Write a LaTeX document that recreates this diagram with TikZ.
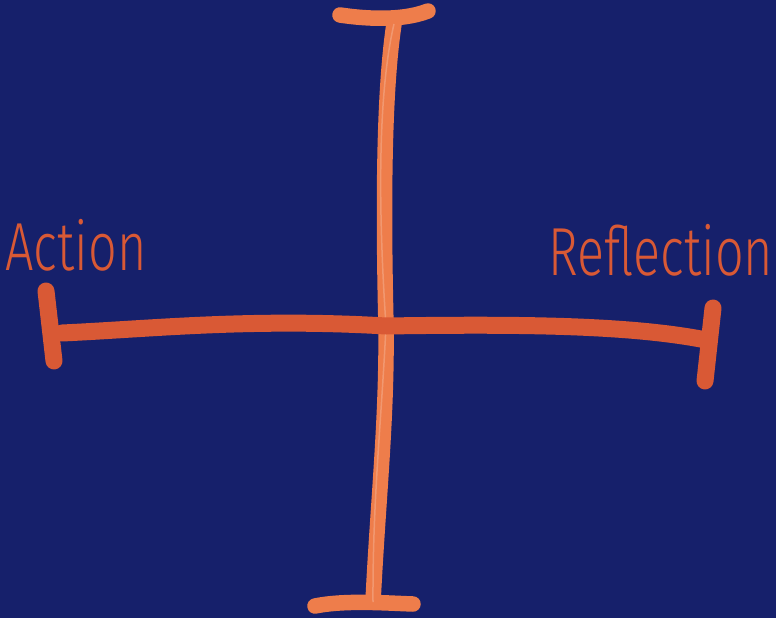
\documentclass[tikz,border=0pt]{standalone}
\usepackage{fontspec}
\newfontfamily\handfont{Fira Sans}[UprightFont={* Light},FakeStretch=0.74]
\definecolor{navy}{HTML}{16206B}
\definecolor{rust}{HTML}{D95935}
\definecolor{peach}{HTML}{EE7D4B}

\begin{document}
\begin{tikzpicture}[
  x=1pt, y=-1pt,
  stroke/.style={line width=15.5pt, line cap=round, line join=round},
  hstroke/.style={stroke, line width=17pt, draw=rust},
  vstroke/.style={stroke, draw=peach},
  lbl/.style={text=rust, font=\handfont\fontsize{68}{68}\selectfont, inner sep=0pt, anchor=base}
]
\fill[navy] (0,0) rectangle (776,618);
\useasboundingbox (0,0) rectangle (776,618);

% vertical axis
\coordinate (top) at (394,24);
\coordinate (mid) at (386,326);
\coordinate (bot) at (373,602);
\coordinate (topL) at (340,15);
\coordinate (topR) at (428,11);
\coordinate (botL) at (315,606);
\coordinate (botR) at (413,604);
\draw[vstroke] (top) .. controls (384,90) and (383,200) .. (mid)
  .. controls (387,420) and (378,500) .. (bot);
\draw[vstroke] (topL) .. controls (360,18) and (400,22) .. (topR);
\draw[vstroke] (botL) .. controls (345,600) and (385,603) .. (botR);
\draw[white!60!peach, line width=1.5pt, opacity=0.35, xshift=-5.5pt]
  (top) .. controls (384,90) and (383,200) .. (mid)
  .. controls (387,420) and (378,500) .. (bot);

% horizontal axis
\coordinate (left) at (62,333);
\coordinate (right) at (706,340);
\coordinate (tickLa) at (46,291);
\coordinate (tickLb) at (54,361);
\coordinate (tickRa) at (713,308);
\coordinate (tickRb) at (705,381);
\draw[hstroke] (left) .. controls (150,329) and (250,318) .. (mid)
  .. controls (520,324) and (630,325) .. (right);
\draw[hstroke] (tickLa) -- (tickLb);
\draw[hstroke] (tickRa) -- (tickRb);

% labels
\node[lbl] (action) at (76,270) {Action};
\node[lbl] (reflection) at (661,275) {Reflection};
\end{tikzpicture}
\end{document}
